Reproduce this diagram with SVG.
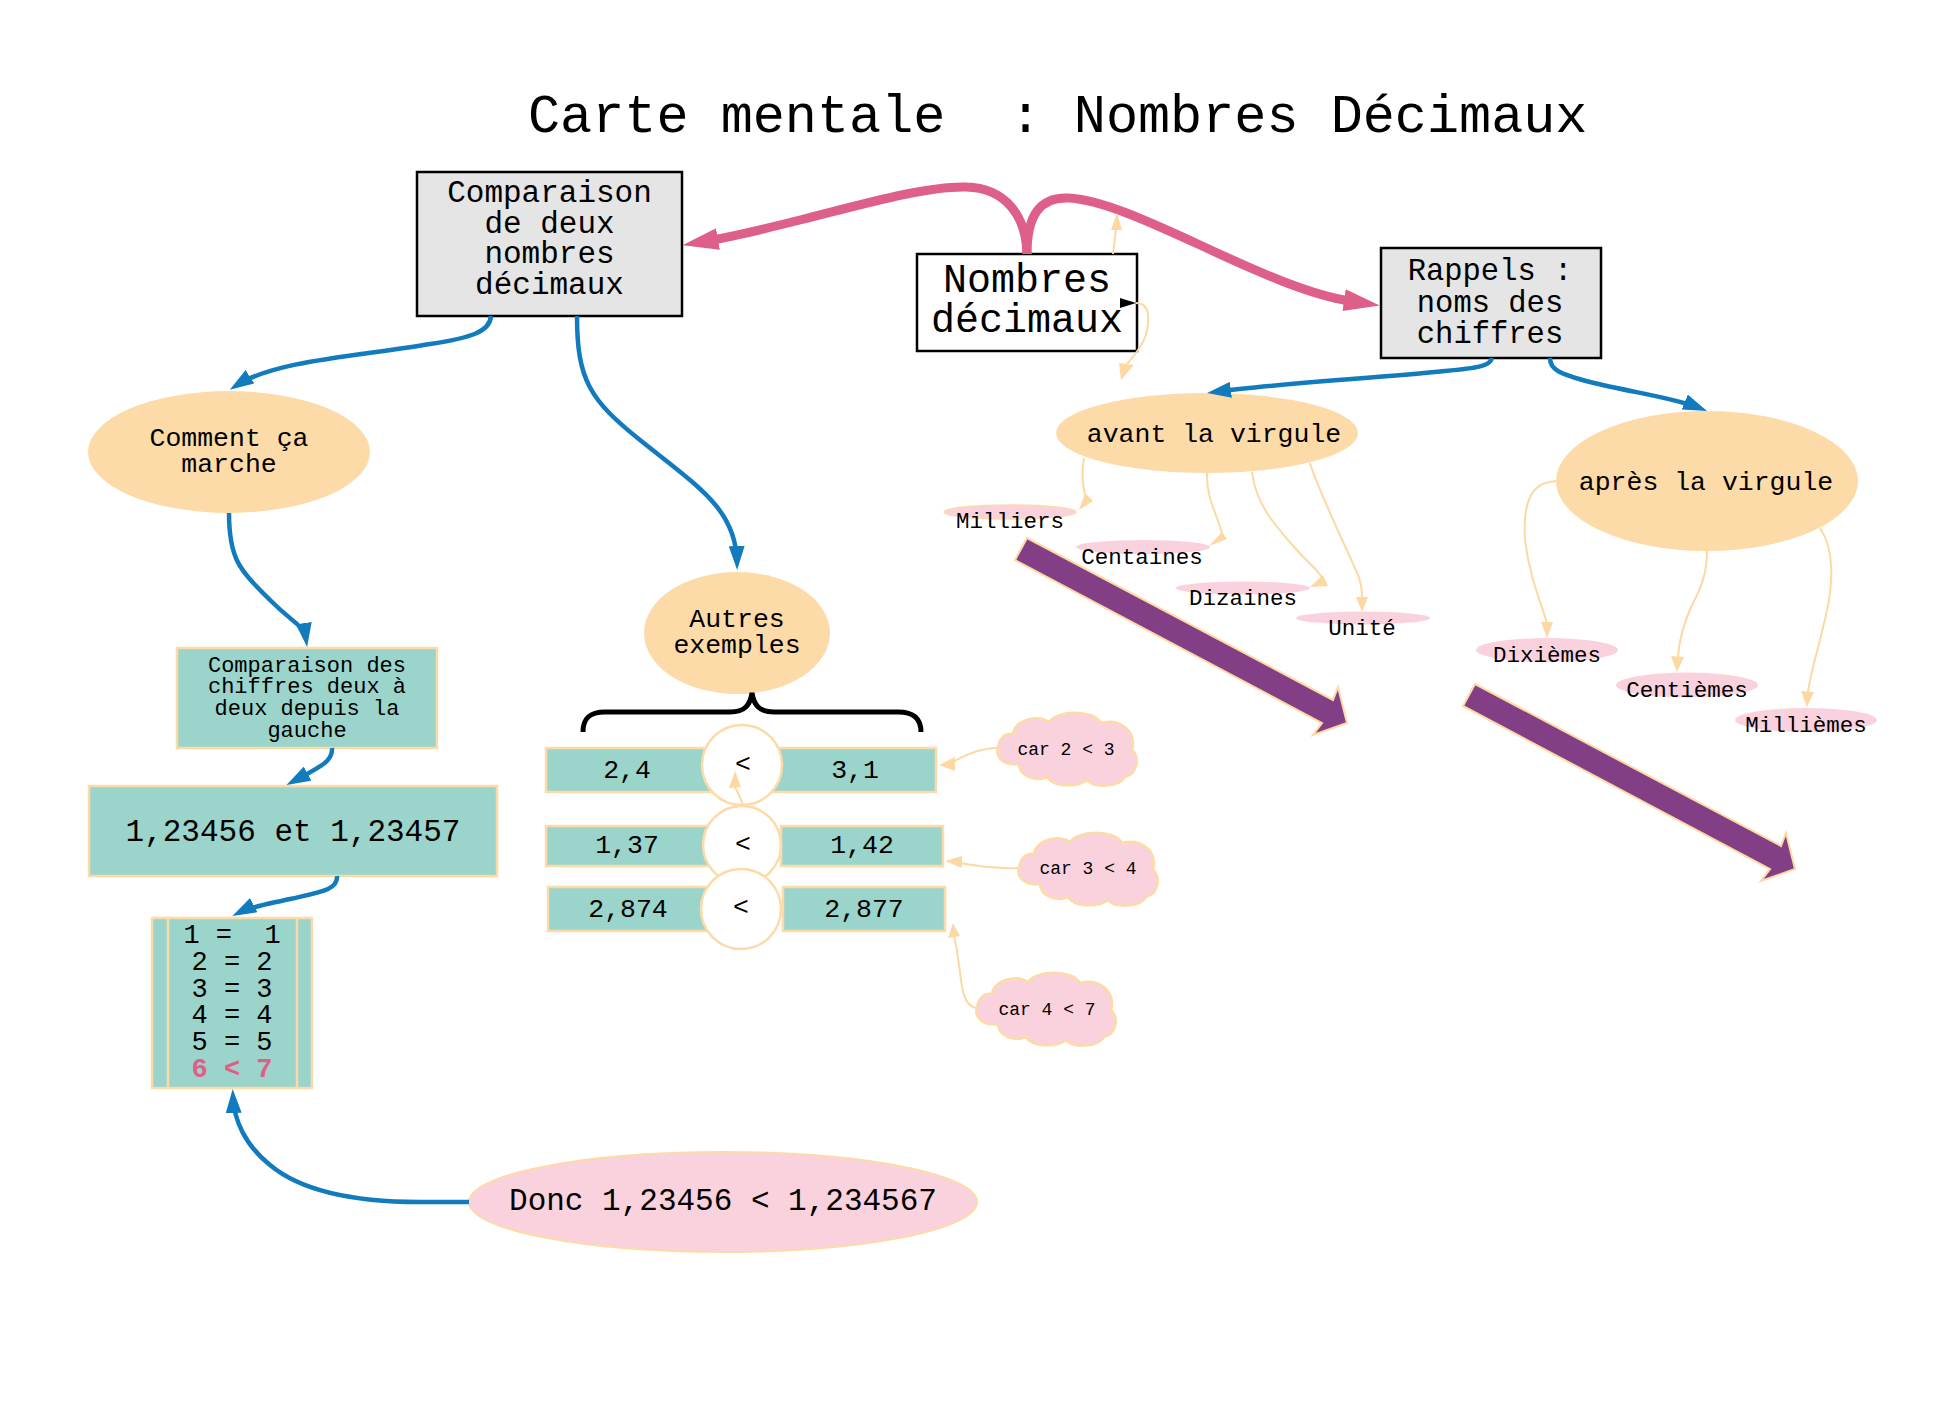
<svg xmlns="http://www.w3.org/2000/svg" width="1959" height="1413" viewBox="0 0 1959 1413">
<defs>
<style>
.t{font-family:"Liberation Mono","DejaVu Sans Mono",monospace;fill:#000}
.m{text-anchor:middle}
.ell{fill:#FDDBA8}
.teal{fill:#9BD4CA;stroke:#FDDBA8;stroke-width:2.5}
.gray{fill:#E5E5E5;stroke:#000;stroke-width:2.5}
.white{fill:#fff;stroke:#000;stroke-width:2.5}
.pill{fill:#F9D2DD}
.cloud{fill:#F9D2DD;stroke:#FDDBA8;stroke-width:2.5}
.circ{fill:#fff;stroke:#FDDBA8;stroke-width:2.5}
.purple{fill:#823F86;stroke:#FDD9A4;stroke-width:2}
.blue{fill:none;stroke:#127BBE;stroke-width:4.5;marker-end:url(#mBlue)}
.pink{fill:none;stroke:#DE5F87;stroke-width:9;marker-end:url(#mPink)}
.peach{fill:none;stroke:#FDD8A3;stroke-width:2}
.ph{fill:#FDD8A3}
.brace{fill:none;stroke:#000;stroke-width:5}
</style>
<marker id="mBlue" viewBox="0 0 24 16" refX="16" refY="8" markerWidth="24" markerHeight="16" markerUnits="userSpaceOnUse" orient="auto">
<path d="M0,0 L24,8 L0,16 Z" fill="#127BBE"/>
</marker>
<marker id="mPink" viewBox="0 0 36 22" refX="6" refY="11" markerWidth="36" markerHeight="22" markerUnits="userSpaceOnUse" orient="auto">
<path d="M0,0 L36,11 L0,22 Z" fill="#DE5F87"/>
</marker>
<path id="cloudShape" d="M16,22 C18,8 40,2 52,10 C60,-2 96,-3 104,11 C122,6 140,18 135,38 C143,44 141,62 128,65 C122,76 96,76 90,68 C80,76 56,75 50,65 C38,70 22,64 22,52 C6,54 -2,44 1,36 C2,26 8,21 16,22 Z"/>
</defs>
<rect x="0" y="0" width="1959" height="1413" fill="#fff"/>

<g id="title">
<text class="t" x="528" y="132" font-size="53.5" xml:space="preserve">Carte mentale  : Nombres Décimaux</text>
</g>

<g id="decor-arrows">
<polygon id="purple-arrow-1" class="purple" points="1027,538 1333,700 1338,687 1347,723 1313,735 1322,723 1015,560"/>
<polygon id="purple-arrow-2" class="purple" points="1475,684 1781,846 1786,833 1795,869 1761,881 1770,869 1463,706"/>
</g>

<g id="node-comparaison-deux">
<rect class="gray" x="417" y="172" width="265" height="144"/>
<text class="t m" font-size="31"><tspan x="549.5" y="202">Comparaison</tspan><tspan x="549.5" y="233">de deux</tspan><tspan x="549.5" y="263">nombres</tspan><tspan x="549.5" y="294">décimaux</tspan></text>
</g>

<g id="node-nombres-decimaux">
<rect class="white" x="917" y="254" width="220" height="97"/>
<text class="t m" font-size="40"><tspan x="1027" y="292">Nombres</tspan><tspan x="1027" y="332">décimaux</tspan></text>
</g>

<g id="node-rappels">
<rect class="gray" x="1381" y="248" width="220" height="110"/>
<text class="t m" font-size="30.5" xml:space="preserve"><tspan x="1490" y="280">Rappels :</tspan><tspan x="1490" y="312">noms des</tspan><tspan x="1490" y="343">chiffres</tspan></text>
</g>

<g id="node-comment">
<ellipse class="ell" cx="229" cy="452" rx="141" ry="61"/>
<text class="t m" font-size="26.5"><tspan x="229" y="446">Comment ça</tspan><tspan x="229" y="472">marche</tspan></text>
</g>

<g id="node-autres">
<ellipse class="ell" cx="737" cy="633" rx="93" ry="61"/>
<text class="t m" font-size="26.5"><tspan x="737" y="627">Autres</tspan><tspan x="737" y="653">exemples</tspan></text>
</g>

<g id="node-comparaison-chiffres">
<rect class="teal" x="177" y="648" width="260" height="100"/>
<text class="t m" font-size="22"><tspan x="307" y="672">Comparaison des</tspan><tspan x="307" y="693">chiffres deux à</tspan><tspan x="307" y="715">deux depuis la</tspan><tspan x="307" y="737">gauche</tspan></text>
</g>

<g id="node-exemple">
<rect class="teal" x="89" y="786" width="408" height="90"/>
<text class="t m" x="293" y="841" font-size="31">1,23456 et 1,23457</text>
</g>

<g id="node-table">
<rect class="teal" x="152" y="918" width="160" height="170"/>
<line x1="168" y1="918" x2="168" y2="1088" stroke="#FDDBA8" stroke-width="2.5"/>
<line x1="297" y1="918" x2="297" y2="1088" stroke="#FDDBA8" stroke-width="2.5"/>
<text class="t m" font-size="27" xml:space="preserve"><tspan x="232" y="943">1 =  1</tspan><tspan x="232" y="970">2 = 2</tspan><tspan x="232" y="997">3 = 3</tspan><tspan x="232" y="1023">4 = 4</tspan><tspan x="232" y="1050">5 = 5</tspan><tspan x="232" y="1077" fill="#DE5F87" font-weight="bold">6 &lt; 7</tspan></text>
</g>

<g id="node-donc">
<ellipse cx="723" cy="1202" rx="254" ry="50" fill="#F9D2DD" stroke="#FDDBA8" stroke-width="2"/>
<text class="t m" x="723" y="1210" font-size="31">Donc 1,23456 &lt; 1,234567</text>
</g>

<g id="node-brace">
<path class="brace" d="M583,732 C583,718 590,712 605,712 L730,712 C745,712 750,705 752,693 C754,705 759,712 774,712 L898,712 C913,712 921,718 921,732"/>
</g>

<g id="node-row1">
<rect class="teal" x="546" y="748" width="169" height="44"/>
<rect class="teal" x="770" y="748" width="166" height="44"/>
<text class="t m" x="627" y="778" font-size="26.5">2,4</text>
<text class="t m" x="855" y="778" font-size="26.5">3,1</text>
<circle class="circ" cx="742" cy="765" r="40"/>
<text class="t m" x="743" y="772" font-size="26.5">&lt;</text>
</g>

<g id="node-row2">
<rect class="teal" x="546" y="826" width="166" height="40"/>
<rect class="teal" x="781" y="826" width="162" height="40"/>
<text class="t m" x="627" y="853" font-size="26.5">1,37</text>
<text class="t m" x="862" y="853" font-size="26.5">1,42</text>
<circle class="circ" cx="742" cy="845" r="39"/>
<text class="t m" x="743" y="852" font-size="26.5">&lt;</text>
</g>

<g id="node-row3">
<rect class="teal" x="548" y="887" width="164" height="44"/>
<rect class="teal" x="783" y="887" width="162" height="44"/>
<text class="t m" x="628" y="917" font-size="26.5">2,874</text>
<text class="t m" x="864" y="917" font-size="26.5">2,877</text>
<circle class="circ" cx="741" cy="909" r="40"/>
<text class="t m" x="741" y="915" font-size="26.5">&lt;</text>
</g>

<g id="node-car1">
<use href="#cloudShape" class="cloud" transform="translate(997,712)"/>
<text class="t m" x="1066" y="755" font-size="18">car 2 &lt; 3</text>
</g>
<g id="node-car2">
<use href="#cloudShape" class="cloud" transform="translate(1018,832)"/>
<text class="t m" x="1088" y="874" font-size="18">car 3 &lt; 4</text>
</g>
<g id="node-car3">
<use href="#cloudShape" class="cloud" transform="translate(976,972)"/>
<text class="t m" x="1047" y="1015" font-size="18">car 4 &lt; 7</text>
</g>

<g id="node-avant">
<ellipse class="ell" cx="1207" cy="433" rx="151" ry="40"/>
<text class="t m" x="1214" y="442" font-size="26.5">avant la virgule</text>
</g>
<g id="node-apres">
<ellipse class="ell" cx="1707" cy="481" rx="151" ry="70"/>
<text class="t m" x="1706" y="490" font-size="26.5">après la virgule</text>
</g>

<g id="node-milliers">
<ellipse class="pill" cx="1010" cy="512" rx="66" ry="7" stroke="#FDDBA8" stroke-width="1.5"/>
<text class="t m" x="1010" y="528" font-size="22.5">Milliers</text>
</g>
<g id="node-centaines">
<ellipse class="pill" cx="1143" cy="547" rx="67" ry="7"/>
<text class="t m" x="1142" y="564" font-size="22.5">Centaines</text>
</g>
<g id="node-dizaines">
<ellipse class="pill" cx="1243" cy="588" rx="67" ry="6.5"/>
<text class="t m" x="1243" y="605" font-size="22.5">Dizaines</text>
</g>
<g id="node-unite">
<ellipse class="pill" cx="1363" cy="618" rx="67" ry="6.5"/>
<text class="t m" x="1362" y="635" font-size="22.5">Unité</text>
</g>
<g id="node-dixiemes">
<ellipse class="pill" cx="1547" cy="650" rx="71" ry="12"/>
<text class="t m" x="1547" y="662" font-size="22.5">Dixièmes</text>
</g>
<g id="node-centiemes">
<ellipse class="pill" cx="1687" cy="685" rx="71" ry="12.5"/>
<text class="t m" x="1687" y="697" font-size="22.5">Centièmes</text>
</g>
<g id="node-milliemes">
<ellipse class="pill" cx="1806" cy="720" rx="71" ry="12"/>
<text class="t m" x="1806" y="732" font-size="22.5">Millièmes</text>
</g>

<g id="connectors">
<path class="pink" d="M1027,254 C1026,215 1005,188 966,187 C925,186 860,205 800,220 C760,230 735,236 712,240"/>
<path class="pink" d="M1027,254 C1027,215 1040,197 1068,198 C1100,199 1150,222 1200,245 C1260,273 1310,295 1350,301"/>

<path class="blue" d="M491,316 C490,332 470,338 430,344 C360,356 276,360 236.5,385.4"/>
<path class="blue" d="M577,316 C577,380 590,400 640,440 C700,488 736,510 737,562"/>
<path class="blue" d="M229,513 C229,560 240,570 270,600 C295,625 304,625 306,639"/>
<path class="blue" d="M332,748 C333,762 318,768 293.5,781.3"/>
<path class="blue" d="M337,876 C338,890 320,892 290,899 C268,904 250,907 239.5,912.4"/>
<path class="blue" d="M469,1202 L420,1202 C350,1202 300,1190 270,1165 C245,1145 234,1120 233,1097"/>
<path class="blue" d="M1492,358 C1490,366 1478,368 1445,371 C1380,378 1280,383 1215,392"/>
<path class="blue" d="M1550,358 C1550,370 1560,374 1590,382 C1630,392 1675,398 1699.6,408"/>

<path class="peach" d="M1113,254 L1116,229"/>
<polygon class="ph" points="1117,213 1111,230 1122,230"/>
<polygon points="1120,298 1136,303 1120,308" fill="#000"/>
<path class="peach" d="M1136,303 C1150,303 1150,318 1146,335 C1140,350 1132,358 1127,364"/>
<polygon class="ph" points="1121,380 1119,363 1134,365"/>

<path class="peach" d="M1084,458 C1081,475 1083,485 1085,495"/>
<polygon class="ph" points="1079,510 1093,501 1085,493"/>
<path class="peach" d="M1207,472 C1206,500 1218,515 1222,534"/>
<polygon class="ph" points="1209,546 1227,539 1222,532"/>
<path class="peach" d="M1252,472 C1256,505 1275,525 1295,548 C1310,565 1320,572 1322,578"/>
<polygon class="ph" points="1310,587 1328,586 1323,575"/>
<path class="peach" d="M1310,463 C1318,490 1345,545 1358,575 C1362,585 1362,592 1362,598"/>
<polygon class="ph" points="1356,597 1362,612 1368,597"/>

<path class="peach" d="M1556,481 L1550,482 C1530,485 1523,505 1525,540 C1530,580 1542,605 1547,623"/>
<polygon class="ph" points="1541,622 1547,638 1553,622"/>
<path class="peach" d="M1707,551 C1707,575 1700,590 1692,605 C1683,625 1679,640 1678,657"/>
<polygon class="ph" points="1671,656 1677,672 1684,657"/>
<path class="peach" d="M1820,528 C1835,550 1833,585 1826,615 C1818,650 1810,675 1808,692"/>
<polygon class="ph" points="1801,691 1807,707 1814,692"/>

<path class="peach" d="M997,748 C980,748 965,755 953,762"/>
<polygon class="ph" points="939,765 955,757 955,771"/>
<path class="peach" d="M1018,868 C995,869 980,866 960,863"/>
<polygon class="ph" points="945,861 962,856 962,868"/>
<path class="peach" d="M976,1008 C962,1005 962,985 959,965 C957,950 955,940 954,936"/>
<polygon class="ph" points="953,923 948,938 960,936"/>
<path class="peach" d="M743,806 C741,798 738,793 735,787"/>
<polygon class="ph" points="735,771 729,788 741,787"/>
</g>
</svg>
